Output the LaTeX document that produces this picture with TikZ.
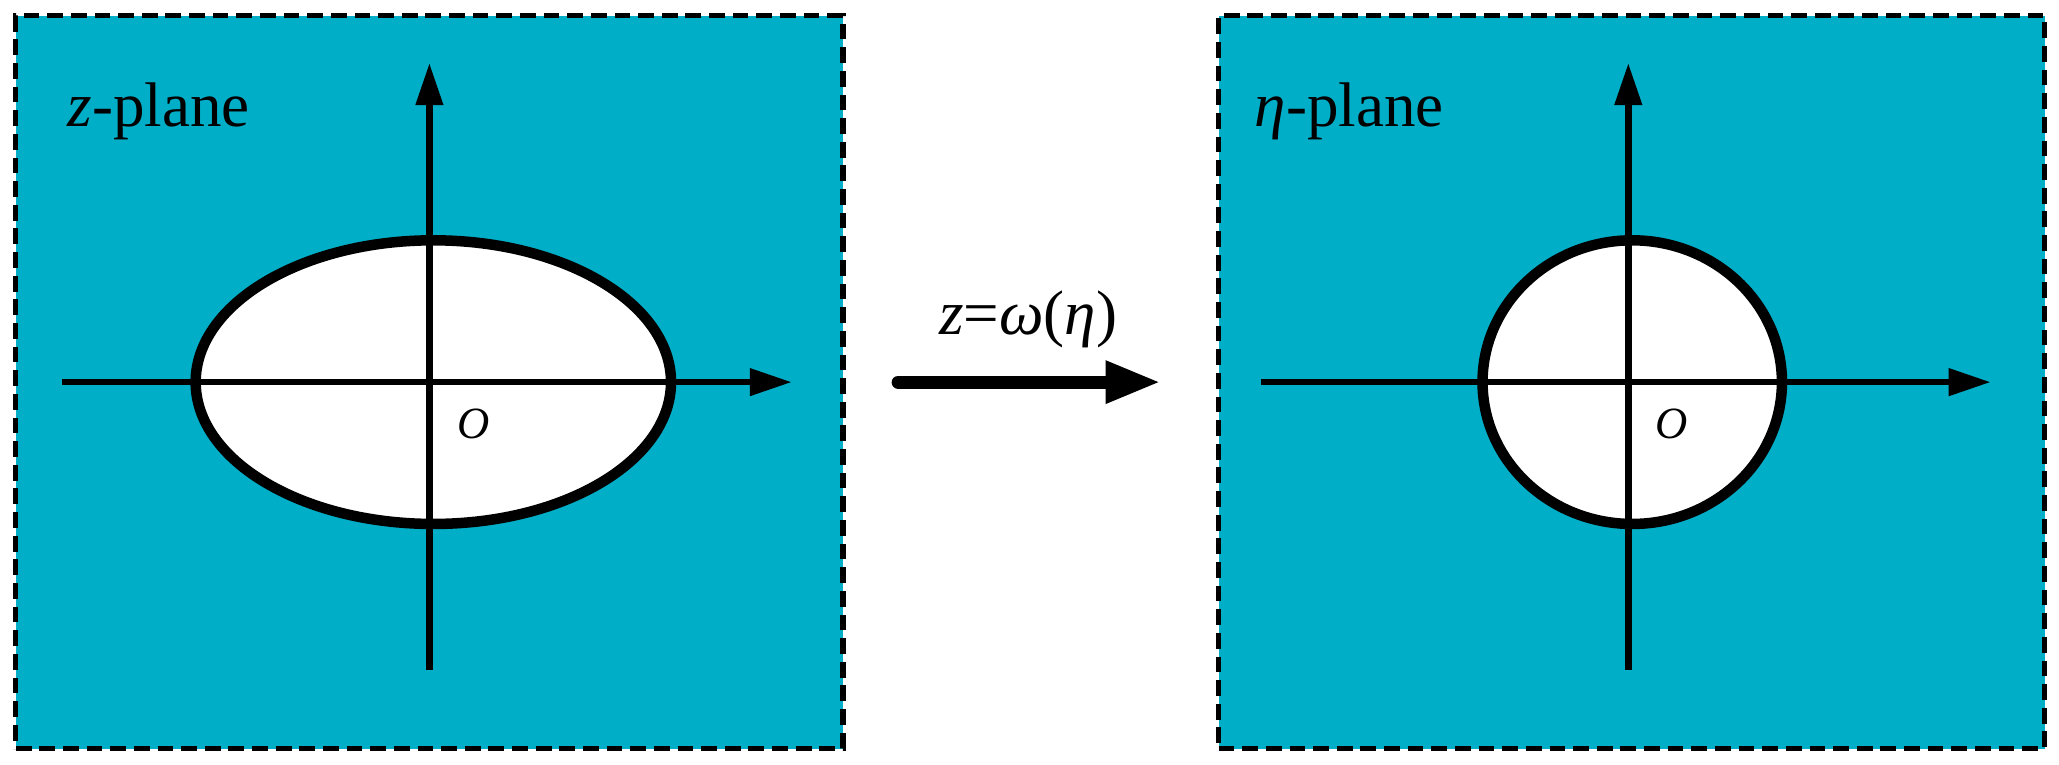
\documentclass[tikz,border=0pt]{standalone}
\usetikzlibrary{arrows.meta,shapes.geometric}
\usepackage{fontspec}
\setmainfont{Liberation Serif}
\definecolor{teal1}{RGB}{0,174,199}
\begin{document}
\begin{tikzpicture}[x=1pt,y=-1pt,
  panel/.style={fill=teal1,draw=black,line width=4pt,dash pattern=on 12pt off 6pt},
  axis/.style={line width=5pt,-{Triangle[length=32pt,width=20pt]}},
  hole/.style={fill=white,draw=black,line width=8pt},
  lbl/.style={font=\fontsize{48}{52}\selectfont},
  org/.style={font=\fontsize{34}{38}\selectfont\itshape}]
\useasboundingbox (0,0) rectangle (1568,582);
\node[panel,minimum width=630pt,minimum height=558pt,inner sep=0] (L) at (327,291) {};
\node[panel,minimum width=629pt,minimum height=558pt,inner sep=0] (R) at (1242.5,291) {};
\node[hole,ellipse,minimum width=362pt,minimum height=216pt,inner sep=0] (E) at (330,291) {};
\node[hole,ellipse,minimum width=228pt,minimum height=216pt,inner sep=0] (C) at (1243,291) {};
\coordinate (lx0) at (47,291); \coordinate (lx1) at (603,291);
\coordinate (ly0) at (327,510); \coordinate (ly1) at (327,48);
\coordinate (rx0) at (960,291); \coordinate (rx1) at (1516,291);
\coordinate (ry0) at (1240,510); \coordinate (ry1) at (1240,48);
\draw[axis] (lx0) -- (lx1);
\draw[axis] (ly0) -- (ly1);
\draw[axis] (rx0) -- (rx1);
\draw[axis] (ry0) -- (ry1);
\node[lbl,anchor=west] (zl) at (48,85) {\textit{z}-plane};
\node[lbl,anchor=west] (el) at (952,85) {\textit{η}-plane};
\node[org] (o1) at (361,323) {O};
\node[org] (o2) at (1273,323) {O};
\coordinate (a0) at (684,291); \coordinate (a1) at (884,291);
\draw[line width=10pt,line cap=round,-{Triangle[length=42pt,width=30pt]}] (a0) -- (a1);
\node[lbl] (map) at (783,243) {\textit{z}=\textit{ω}(\textit{η})};
\end{tikzpicture}
\end{document}
